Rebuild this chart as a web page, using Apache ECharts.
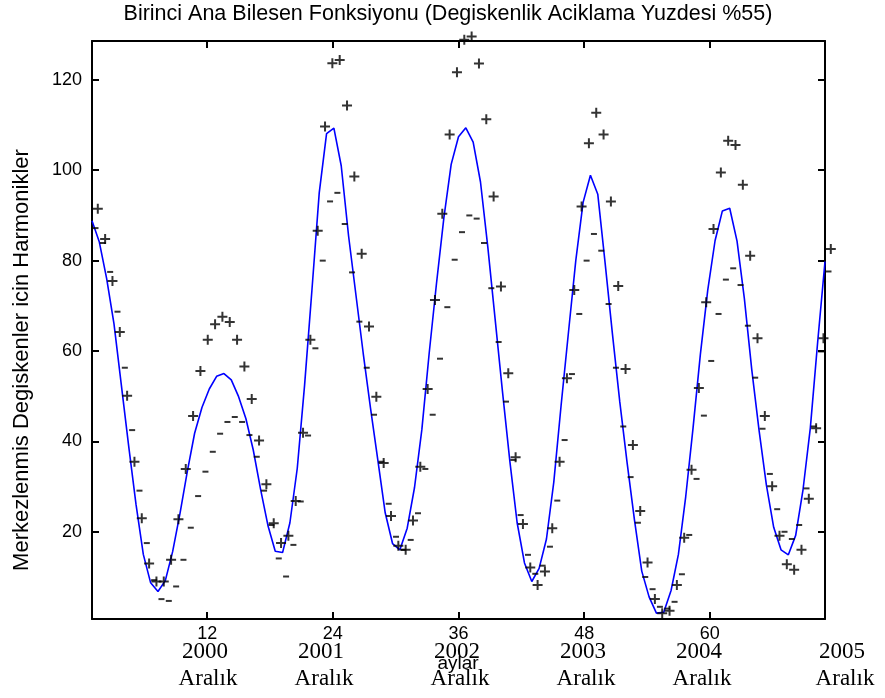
<!DOCTYPE html>
<html>
<head>
<meta charset="utf-8">
<script src="https://cdn.jsdelivr.net/npm/echarts@6/dist/echarts.min.js"></script>
<style>
  html, body { margin: 0; padding: 0; background: #ffffff; }
  #chart { width: 885px; height: 698px; }
</style>
</head>
<body>
<div id="chart"></div>
<script>
// Evaluation grid: 101 points spread over months 1..71
const monthStart = 1;
const monthEnd = 71;
const nPoints = 101;

// Mean function (solid blue line)
const meanCurve = [
  88.8, 84.1, 76.0, 66.0, 52.5, 39.0, 26.1, 15.0, 8.7, 6.8,
  9.2, 15.6, 24.0, 33.3, 41.8, 47.5, 51.6, 54.4, 55.0, 53.6,
  49.9, 45.0, 38.1, 29.4, 21.4, 15.7, 15.4, 22.0, 34.0, 52.4,
  73.4, 95.0, 108.1, 109.3, 101.0, 85.5, 72.5, 59.5, 47.3, 35.8,
  24.2, 17.4, 16.0, 20.8, 29.8, 42.6, 59.5, 75.0, 89.4, 101.3,
  107.4, 109.4, 106.2, 97.4, 83.0, 67.0, 51.0, 35.7, 22.0, 13.1,
  9.0, 11.9, 18.4, 31.0, 48.0, 64.1, 80.0, 92.9, 98.9, 94.7,
  79.5, 63.8, 48.8, 35.3, 22.7, 11.3, 5.6, 2.0, 2.2, 7.0,
  15.0, 27.8, 43.0, 59.3, 73.4, 84.4, 91.0, 91.6, 84.3, 71.6,
  56.0, 42.5, 30.4, 21.0, 16.0, 14.9, 19.2, 29.3, 43.0, 62.0,
  79.8
];

// Mean plus a multiple of the first harmonic ("+" marks)
const plusCurve = [
  91.5, 84.8, 75.5, 64.2, 50.1, 35.5, 23.0, 13.0, 9.0, 9.0,
  13.8, 22.8, 33.9, 45.6, 55.6, 62.5, 65.9, 67.6, 66.4, 62.5,
  56.6, 49.4, 40.2, 30.5, 21.9, 17.5, 19.1, 26.8, 41.9, 62.5,
  86.6, 109.7, 123.7, 124.4, 114.3, 98.6, 81.5, 65.4, 49.9, 35.2,
  23.5, 16.9, 16.0, 22.5, 34.4, 51.6, 71.3, 90.4, 107.9, 121.7,
  128.9, 129.6, 123.6, 111.3, 94.2, 74.3, 55.1, 36.5, 21.7, 12.1,
  8.2, 11.2, 20.8, 35.5, 54.0, 73.5, 92.0, 106.0, 112.7, 107.9,
  93.1, 74.4, 56.0, 39.2, 24.6, 13.2, 5.1, 2.0, 2.5, 8.2,
  18.7, 33.7, 51.8, 70.8, 87.0, 99.5, 106.5, 105.6, 96.8, 81.1,
  62.8, 45.6, 30.1, 19.1, 12.8, 11.6, 16.0, 27.3, 42.9, 62.8,
  82.6
];

// Mean minus the same multiple of the harmonic ("-" marks)
const minusCurve = [
  87.2, 83.9, 77.5, 68.7, 56.3, 42.5, 29.1, 17.5, 9.3, 5.1,
  4.7, 7.9, 13.8, 20.9, 27.9, 33.3, 37.7, 41.7, 44.3, 45.4,
  44.3, 41.4, 36.6, 29.1, 21.5, 14.1, 10.1, 17.1, 26.7, 41.3,
  60.6, 80.0, 93.1, 95.0, 88.1, 77.4, 66.5, 56.3, 45.9, 35.5,
  26.2, 18.9, 16.0, 18.2, 24.1, 33.9, 45.9, 58.3, 69.7, 80.2,
  86.3, 90.0, 89.3, 83.9, 73.9, 62.0, 48.8, 35.9, 23.7, 14.9,
  10.7, 12.5, 16.7, 26.9, 40.3, 54.9, 68.2, 80.0, 85.9, 82.2,
  70.4, 56.3, 43.3, 32.1, 22.0, 10.0, 7.3, 3.4, 3.0, 4.5,
  10.6, 19.3, 31.7, 45.7, 57.8, 68.2, 75.8, 78.3, 74.6, 65.6,
  54.1, 42.8, 32.8, 25.0, 20.0, 18.4, 21.5, 29.6, 43.3, 59.9,
  77.6
];

const xTicks = [12, 24, 36, 48, 60];
const yTicks = [20, 40, 60, 80, 100, 120];
const yearLabels = ['2000', '2001', '2002', '2003', '2004', '2005'];
const monthLabel = 'Aralık';
const titleText = 'Birinci Ana Bilesen Fonksiyonu (Degiskenlik Aciklama Yuzdesi %55)';
const xName = 'aylar';
const yName = 'Merkezlenmis Degiskenler icin Harmonikler';

// ---- layout ----
const GRID = { left: 92, right: 60, top: 41, bottom: 79 };
const yRange = [0.7, 128.6];
// centres of the year / month captions under the axis (pixels)
const captionX = [205, 321, 457, 583, 699, 842];
const captionYearY = 652;
const captionMonthY = 679;

const SANS = 'Liberation Sans, Arial, sans-serif';
const SERIF = 'Liberation Serif, Times New Roman, serif';

const step = (monthEnd - monthStart) / (nPoints - 1);
const xs = meanCurve.map((_, i) => monthStart + i * step);
const toPairs = arr => arr.map((v, i) => [xs[i], v]);

// plus sign drawn as a filled cross, 10 x 10 with 2px arms
const plusPath = 'path://M4,0H6V4H10V6H6V10H4V6H0V4H4Z';

const axisLineStyle = { color: '#000', width: 2 };
const tickStyle = { color: '#000', width: 2 };

function xAxisDef(pos, showLabels) {
  return {
    type: 'value', position: pos, min: monthStart, max: monthEnd,
    axisLine: { show: true, onZero: false, lineStyle: axisLineStyle },
    axisTick: { show: true, inside: true, length: 7, lineStyle: tickStyle, customValues: xTicks },
    axisLabel: {
      show: showLabels, customValues: xTicks, margin: 6,
      color: '#000', fontFamily: SANS, fontSize: 18
    },
    splitLine: { show: false }
  };
}
function yAxisDef(pos, showLabels) {
  return {
    type: 'value', position: pos, min: yRange[0], max: yRange[1],
    axisLine: { show: true, onZero: false, lineStyle: axisLineStyle },
    axisTick: { show: true, inside: true, length: 7, lineStyle: tickStyle, customValues: yTicks },
    axisLabel: {
      show: showLabels, customValues: yTicks, margin: 10,
      color: '#000', fontFamily: SANS, fontSize: 18
    },
    splitLine: { show: false }
  };
}

const graphics = [];
graphics.push({
  type: 'text', silent: true, x: 448, y: 14,
  style: { text: titleText, fill: '#000', font: '21.5px ' + SANS,
           textAlign: 'center', textVerticalAlign: 'middle' }
});
graphics.push({
  type: 'text', silent: true, rotation: Math.PI / 2, x: 22, y: 360,
  style: { text: yName, fill: '#000', font: '22px ' + SANS,
           textAlign: 'center', textVerticalAlign: 'middle' }
});
yearLabels.forEach((yr, i) => {
  graphics.push({
    type: 'text', silent: true, x: captionX[i], y: captionYearY,
    style: { text: yr, fill: '#000', font: '23px ' + SERIF,
             textAlign: 'center', textVerticalAlign: 'middle' }
  });
  graphics.push({
    type: 'text', silent: true, x: captionX[i] + 3, y: captionMonthY,
    style: { text: monthLabel, fill: '#000', font: '23px ' + SERIF,
             textAlign: 'center', textVerticalAlign: 'middle' }
  });
});
graphics.push({
  type: 'text', silent: true, z: 10, x: 458, y: 664,
  style: { text: xName, fill: '#000', font: '19px ' + SANS,
           textAlign: 'center', textVerticalAlign: 'middle' }
});

const chart = echarts.init(document.getElementById('chart'), null, { renderer: 'canvas' });
chart.setOption({
  animation: false,
  backgroundColor: '#ffffff',
  grid: GRID,
  xAxis: [xAxisDef('bottom', true), xAxisDef('top', false)],
  yAxis: [yAxisDef('left', true), yAxisDef('right', false)],
  series: [
    {
      type: 'line', data: toPairs(meanCurve), xAxisIndex: 0, yAxisIndex: 0,
      showSymbol: false, symbol: 'none', smooth: false, clip: false,
      lineStyle: { color: '#0000ff', width: 1.6 }, z: 2
    },
    {
      type: 'scatter', data: toPairs(plusCurve), xAxisIndex: 0, yAxisIndex: 0,
      symbol: plusPath, symbolSize: [10, 10], symbolOffset: [5.8, 0], clip: false,
      itemStyle: { color: '#000' }, z: 3
    },
    {
      type: 'scatter', data: toPairs(minusCurve), xAxisIndex: 0, yAxisIndex: 0,
      symbol: 'rect', symbolSize: [6, 2], symbolOffset: [3.5, 0], clip: false,
      itemStyle: { color: '#000' }, z: 3
    }
  ],
  graphic: graphics
});
</script>
</body>
</html>
